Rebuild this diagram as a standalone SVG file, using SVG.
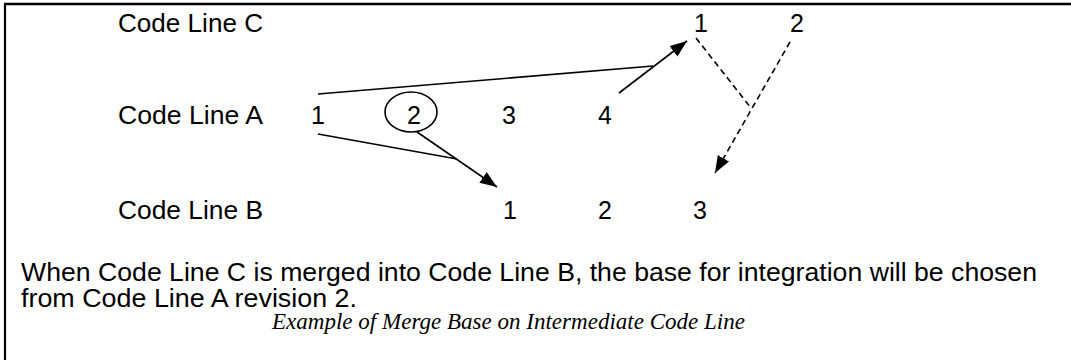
<svg xmlns="http://www.w3.org/2000/svg" width="1071" height="360" viewBox="0 0 1071 360">
<defs>
<style>
.t{font-family:"Liberation Sans",Arial,sans-serif;font-size:25px;fill:#000}
.n{font-family:"Liberation Sans",Arial,sans-serif;font-size:25px;fill:#000;text-anchor:middle}
.cap{font-family:"Liberation Serif","Times New Roman",serif;font-size:22.5px;font-style:italic;fill:#000}
.ln{stroke:#000;stroke-width:1.6;fill:none}
.ds{stroke:#000;stroke-width:1.6;fill:none;stroke-dasharray:6,4}
</style>
<marker id="ah" markerUnits="userSpaceOnUse" markerWidth="18" markerHeight="14" refX="17" refY="6.5" orient="auto">
<path d="M0,0 L17,6.5 L0,13 z" fill="#000"/>
</marker>
</defs>
<rect width="1071" height="360" fill="#fff"/>
<g id="frame">
<line x1="4" y1="4" x2="1071" y2="4" stroke="#000" stroke-width="2.4"/>
<line x1="5" y1="3" x2="5" y2="360" stroke="#000" stroke-width="2.2"/>
</g>
<g id="lineC">
<text class="t" x="118" y="32" textLength="145" lengthAdjust="spacingAndGlyphs">Code Line C</text>
<text class="n" x="701" y="32">1</text>
<text class="n" x="797" y="32">2</text>
</g>
<g id="lineA">
<text class="t" x="118" y="124" textLength="145" lengthAdjust="spacingAndGlyphs">Code Line A</text>
<text class="n" x="318" y="124">1</text>
<ellipse cx="411" cy="112" rx="26" ry="20" class="ln"/>
<text class="n" x="414" y="124">2</text>
<text class="n" x="509" y="124">3</text>
<text class="n" x="605" y="124">4</text>
</g>
<g id="lineB">
<text class="t" x="118" y="219" textLength="145" lengthAdjust="spacingAndGlyphs">Code Line B</text>
<text class="n" x="510" y="219">1</text>
<text class="n" x="605" y="219">2</text>
<text class="n" x="700" y="219">3</text>
</g>
<g id="connectors">
<line class="ln" x1="318" y1="94" x2="653" y2="66"/>
<line class="ln" x1="619" y1="93" x2="687" y2="41" marker-end="url(#ah)"/>
<line class="ln" x1="318" y1="134" x2="457" y2="159"/>
<line class="ln" x1="417" y1="132" x2="497" y2="187" marker-end="url(#ah)"/>
<line class="ds" x1="696" y1="38" x2="751" y2="108"/>
<line class="ds" x1="790" y1="42" x2="715" y2="173" marker-end="url(#ah)"/>
</g>
<g id="notes">
<text class="t" x="21" y="281" textLength="1016" lengthAdjust="spacingAndGlyphs">When Code Line C is merged into Code Line B, the base for integration will be chosen</text>
<text class="t" x="21" y="307" textLength="336" lengthAdjust="spacingAndGlyphs">from Code Line A revision 2.</text>
<text class="cap" x="272" y="329" textLength="473" lengthAdjust="spacingAndGlyphs">Example of Merge Base on Intermediate Code Line</text>
</g>
</svg>
